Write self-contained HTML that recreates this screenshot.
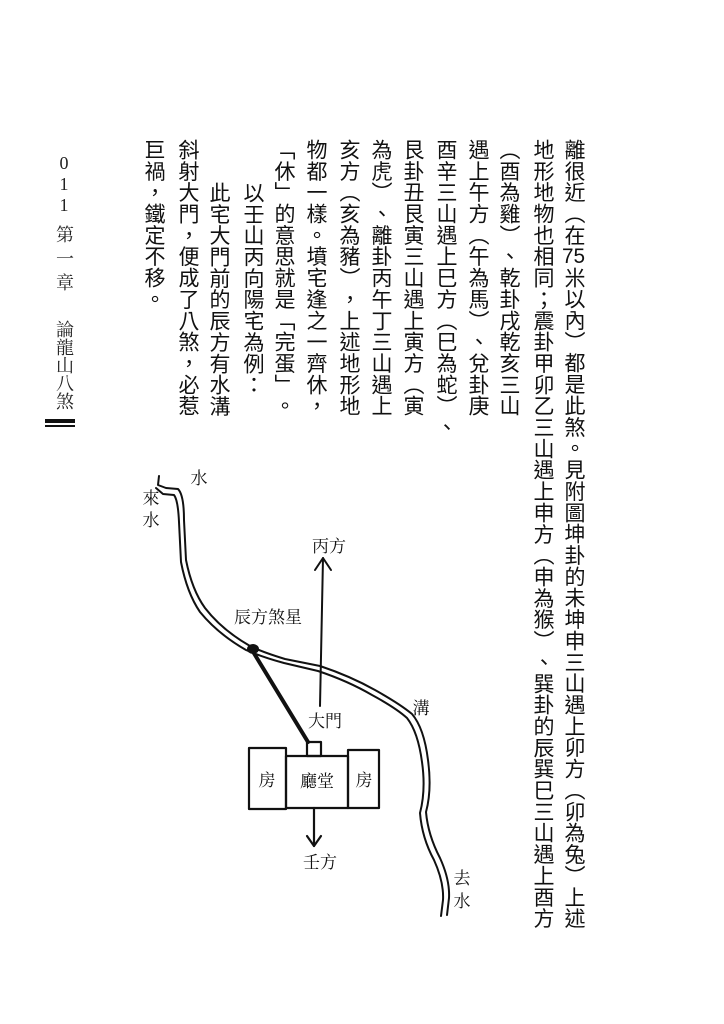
<!DOCTYPE html>
<html><head><meta charset="utf-8"><style>
html,body{margin:0;padding:0;background:#fff;}
body{width:724px;height:1024px;position:relative;overflow:hidden;}
.c{position:absolute;top:139px;writing-mode:vertical-rl;font-family:"Liberation Sans","Noto Sans CJK TC",sans-serif;font-size:21px;line-height:24px;width:24px;letter-spacing:0.35px;color:#111;white-space:nowrap;text-spacing-trim:space-all;font-feature-settings:"halt" 0,"palt" 0;}
.L{height:790px;text-align:justify;text-align-last:justify;}
.n{text-combine-upright:all;}
.h{position:absolute;left:52px;writing-mode:vertical-rl;text-orientation:upright;font-family:"Liberation Serif","Noto Serif CJK SC",serif;font-size:18px;line-height:24px;width:24px;color:#222;white-space:nowrap;}
svg{position:absolute;left:0;top:0;}
</style></head><body>
<div class="c L" style="left:561px">離很近（在<span class="n">75</span>米以內）都是此煞。見附圖坤卦的未坤申三山遇上卯方（卯為兔）上述</div>
<div class="c L" style="left:530px">地形地物也相同；震卦甲卯乙三山遇上申方（申為猴）、巽卦的辰巽巳三山遇上酉方</div>
<div class="c" style="left:496px">（酉為雞）、乾卦戌乾亥三山</div>
<div class="c" style="left:465px">遇上午方（午為馬）、兌卦庚</div>
<div class="c" style="left:433px">酉辛三山遇上巳方（巳為蛇）、</div>
<div class="c" style="left:400px">艮卦丑艮寅三山遇上寅方（寅</div>
<div class="c" style="left:368px">為虎）、離卦丙午丁三山遇上</div>
<div class="c" style="left:336px">亥方（亥為豬），上述地形地</div>
<div class="c" style="left:303px">物都一樣。墳宅逢之一齊休，</div>
<div class="c" style="left:271px">「休」的意思就是「完蛋」。</div>
<div class="c" style="left:240px;top:182px">以壬山丙向陽宅為例：</div>
<div class="c" style="left:206px;top:182px">此宅大門前的辰方有水溝</div>
<div class="c" style="left:175px">斜射大門，便成了八煞，必惹</div>
<div class="c" style="left:141px">巨禍，鐵定不移。</div>

<div class="h" style="top:153px;letter-spacing:1px">011</div>
<div class="h" style="top:225px;letter-spacing:6px">第一章</div>
<div class="h" style="top:320px;letter-spacing:0px">論龍山八煞</div>
<div style="position:absolute;left:45px;top:419px;width:30px;height:4px;background:#111"></div>
<div style="position:absolute;left:45px;top:425px;width:30px;height:2px;background:#111"></div>

<svg width="724" height="1024" viewBox="0 0 724 1024">
<g fill="none" stroke="#111" stroke-linecap="round" stroke-linejoin="round">
<path d="M159,476 L158,485 L166,488 L178,489 Q184,495 184,520 L186,560 Q192,590 205,608 Q222,630 250,646 Q262,652 285,659 L320,666 Q350,676 375,690 Q400,704 412,714 Q424,728 428,760 Q432,790 426,812 Q428,835 440,858 Q450,880 449,898 L447,915" stroke-width="2"/>
<path d="M156,488 L163,494 L174,495 Q178,500 179,522 L181,562 Q187,593 200,612 Q218,634 246,650 Q262,657 284,663 L318,671 Q348,681 372,695 Q396,708 407,718 Q418,732 422,762 Q426,790 420,813 Q422,838 434,860 Q444,882 443,900 L441,916" stroke-width="2"/>
<path d="M252,650 L308,742" stroke-width="4"/>
<ellipse cx="253" cy="649" rx="6" ry="5" fill="#111" stroke="none"/>
<path d="M320,706 L323,558" stroke-width="2"/>
<path d="M315,570 L323,558 L331,570" stroke-width="2"/>
<rect x="307" y="742" width="14" height="14" stroke-width="2.2"/>
<rect x="286" y="756" width="62" height="52" stroke-width="2.2"/>
<rect x="249" y="748" width="37" height="61" stroke-width="2.2"/>
<rect x="348" y="750" width="31" height="58" stroke-width="2.2"/>
<path d="M314,808 L314,846" stroke-width="2.2"/>
<path d="M307,836 L314,846 L321,836" stroke-width="2.2"/>
</g>
<g font-family="Liberation Serif, Noto Serif CJK SC, serif" font-size="17" fill="#111" text-anchor="middle">
<text x="199" y="484">水</text>
<text x="151" y="504">來</text>
<text x="151" y="526">水</text>
<text x="329" y="552">丙方</text>
<text x="268" y="623">辰方煞星</text>
<text x="325" y="727">大門</text>
<text x="421" y="714">溝</text>
<text x="267" y="786">房</text>
<text x="317" y="787">廳堂</text>
<text x="364" y="786">房</text>
<text x="320" y="868">壬方</text>
<text x="462" y="884">去</text>
<text x="462" y="907">水</text>
</g>
</svg>
</body></html>
